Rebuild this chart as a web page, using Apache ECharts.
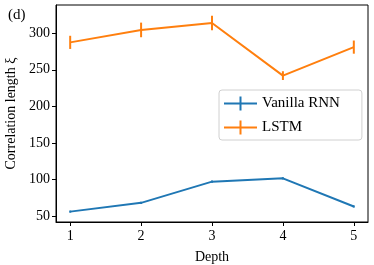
<!DOCTYPE html>
<html><head><meta charset="utf-8">
<script src="https://cdn.jsdelivr.net/npm/echarts@6/dist/echarts.min.js"></script>
<style>html,body{margin:0;padding:0;background:#fff}#c{width:374px;height:265px}</style>
</head><body><div id="c"></div>
<script>
const depths = [1, 2, 3, 4, 5];
const rnnValues = [56, 68, 97, 101.5, 63];
const rnnErrors = [1.5, 1.5, 1.5, 1.5, 1.5];
const lstmValues = [287.5, 304.5, 314, 242, 281];
const lstmErrors = [9, 10, 10, 6, 9];
const xTicks = [1, 2, 3, 4, 5];
const yTicks = [50, 100, 150, 200, 250, 300];
const seriesNames = ['Vanilla RNN', 'LSTM'];
const colors = ['#1f77b4', '#ff7f0e'];
const FONT = 'Liberation Serif';

function errData(vals, errs) {
  return depths.map((d, i) => [d, vals[i] - errs[i], vals[i] + errs[i]]);
}
function errSeries(name, vals, errs, color) {
  return {
    name: name, type: 'custom', z: 3,
    data: errData(vals, errs),
    renderItem: function (params, api) {
      const x = api.value(0);
      const lo = api.coord([x, api.value(1)]);
      const hi = api.coord([x, api.value(2)]);
      return {
        type: 'line',
        shape: { x1: lo[0], y1: lo[1], x2: hi[0], y2: hi[1] },
        style: { stroke: color, lineWidth: 2 }
      };
    }
  };
}
const iconPath = 'path://M0,6 H15.5 V0 H17.5 V6 H33 V8 H17.5 V14 H15.5 V8 H0 Z';

const chart = echarts.init(document.getElementById('c'), null, { renderer: 'canvas' });
chart.setOption({
  animation: false,
  color: colors,
  title: { text: '(d)', left: 3, top: 3, textStyle: { fontFamily: FONT, fontSize: 15, fontWeight: 'normal', color: '#000' } },
  grid: { left: 56, right: 6, top: 5, bottom: 43, show: true, borderColor: '#000', borderWidth: 1, outerBoundsMode: 'none', containLabel: false },
  legend: {
    data: seriesNames.map(n => ({ name: n, icon: iconPath })),
    orient: 'vertical', left: 219, top: 90,
    itemWidth: 33, itemHeight: 14, itemGap: 9,
    padding: [6, 22, 5, 5],
    backgroundColor: 'rgba(255,255,255,0.85)',
    borderColor: '#d0d0d0', borderWidth: 1, borderRadius: 3,
    textStyle: { fontFamily: FONT, fontSize: 15, color: '#000' }
  },
  xAxis: {
    type: 'value', min: 0.8, max: 5.2,
    name: 'Depth', nameLocation: 'middle', nameGap: 28,
    nameTextStyle: { fontFamily: FONT, fontSize: 14, color: '#000' },
    axisLine: { show: true, onZero: false, lineStyle: { color: '#000', width: 1 } },
    axisTick: { show: true, customValues: xTicks, length: 4, lineStyle: { color: '#000' } },
    axisLabel: { customValues: xTicks, fontFamily: FONT, fontSize: 14, color: '#000', margin: 7 },
    splitLine: { show: false }
  },
  yAxis: {
    type: 'value', min: 41.8, max: 338.6,
    name: 'Correlation length ξ', nameLocation: 'middle', nameGap: 37,
    nameTextStyle: { fontFamily: FONT, fontSize: 14, color: '#000' },
    axisLine: { show: true, onZero: false, lineStyle: { color: '#000', width: 1 } },
    axisTick: { show: true, customValues: yTicks, length: 4, lineStyle: { color: '#000' } },
    axisLabel: { customValues: yTicks, fontFamily: FONT, fontSize: 14, color: '#000', margin: 6 },
    splitLine: { show: false }
  },
  series: [
    { name: seriesNames[0], type: 'line', data: depths.map((d, i) => [d, rnnValues[i]]), showSymbol: false, symbol: 'none', lineStyle: { width: 2, color: colors[0] }, itemStyle: { color: colors[0] }, z: 2 },
    errSeries(seriesNames[0], rnnValues, rnnErrors, colors[0]),
    { name: seriesNames[1], type: 'line', data: depths.map((d, i) => [d, lstmValues[i]]), showSymbol: false, symbol: 'none', lineStyle: { width: 2, color: colors[1] }, itemStyle: { color: colors[1] }, z: 2 },
    errSeries(seriesNames[1], lstmValues, lstmErrors, colors[1])
  ]
});
</script></body></html>
